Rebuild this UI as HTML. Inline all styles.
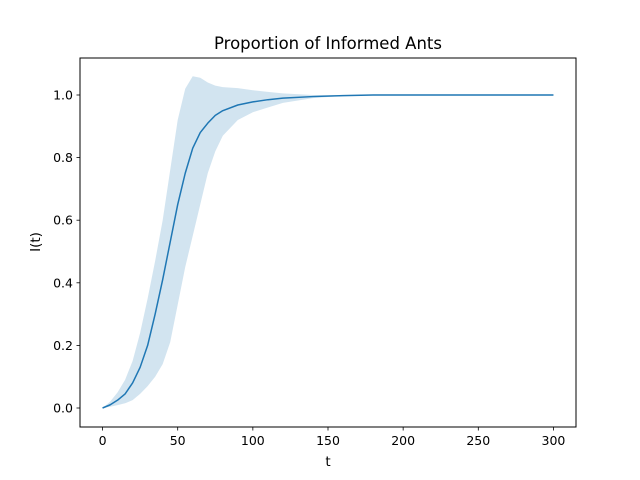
<!DOCTYPE html>
<html><head><meta charset="utf-8"><style>
body{margin:0;background:#fff;}
svg{display:block;font-family:"DejaVu Sans","Liberation Sans",sans-serif;}
</style></head><body>
<svg id="chart" width="640" height="480">
<rect width="640" height="480" fill="#fff"/>
<text x="328" y="49" text-anchor="middle" font-size="16.5">Proportion of Informed Ants</text>
<text x="328" y="466" text-anchor="middle" font-size="13.5">t</text>
<text transform="translate(40,242) rotate(-90)" text-anchor="middle" font-size="13.5">I(t)</text>
<g id="plot"></g>
<rect x="80" y="58" width="496" height="369" fill="none" stroke="#000" stroke-width="1"/>
</svg>
<script>
const tValues=[0,5,10,15,20,25,30,35,40,45,50,55,60,65,70,75,80,90,100,110,120,140,160,180,200,250,300];
const meanValues=[0,0.01,0.025,0.045,0.08,0.13,0.2,0.3,0.41,0.53,0.65,0.75,0.83,0.88,0.91,0.935,0.95,0.968,0.978,0.985,0.99,0.995,0.998,1,1,1,1];
const upperValues=[0,0.02,0.05,0.09,0.15,0.24,0.35,0.47,0.6,0.76,0.92,1.02,1.06,1.055,1.04,1.03,1.025,1.022,1.015,1.01,1.005,1.0,1.0,1,1,1,1];
const lowerValues=[0,0.004,0.009,0.015,0.025,0.045,0.07,0.1,0.14,0.21,0.33,0.45,0.55,0.65,0.75,0.82,0.87,0.92,0.945,0.96,0.975,0.99,0.997,1,1,1,1];
const xTicks=[0,50,100,150,200,250,300];
const yTicks=[0.0,0.2,0.4,0.6,0.8,1.0];

const NS="http://www.w3.org/2000/svg";
const X0=80,X1=576,Y0=427,Y1=58;
const xMin=-15,xMax=315,yMin=-0.0607,yMax=1.1182;
function xs(v){return X0+(v-xMin)/(xMax-xMin)*(X1-X0);}
function ys(v){return Y0-(v-yMin)/(yMax-yMin)*(Y0-Y1);}
const g=document.getElementById('plot');
function mk(tag,attrs){const e=document.createElementNS(NS,tag);for(const k in attrs)e.setAttribute(k,attrs[k]);g.appendChild(e);return e;}

let d='';
tValues.forEach((t,i)=>{d+=(i?'L':'M')+xs(t)+','+ys(upperValues[i]);});
for(let i=tValues.length-1;i>=0;i--)d+='L'+xs(tValues[i])+','+ys(lowerValues[i]);
const band=mk('path',{d:d+'Z',fill:'#1f77b4','fill-opacity':0.2,stroke:'none'});



let ld='';
tValues.forEach((t,i)=>{ld+=(i?'L':'M')+xs(t)+','+ys(meanValues[i]);});
const line=mk('path',{d:ld,fill:'none',stroke:'#1f77b4','stroke-width':1.5,'stroke-linejoin':'round'});



xTicks.forEach(v=>{
  const x=xs(v);
  const tk=mk('line',{x1:x,x2:x,y1:Y0,y2:Y0+3.5,stroke:'#000','stroke-width':0.8});
  
  
  const tx=mk('text',{x:x,y:Y0+18,'text-anchor':'middle','font-size':12.5});
  tx.textContent=v;
  
  
});
yTicks.forEach(v=>{
  const y=ys(v);
  const tk=mk('line',{x1:X0-3.5,x2:X0,y1:y,y2:y,stroke:'#000','stroke-width':0.8});
  
  
  const tx=mk('text',{x:X0-7,y:y+4.5,'text-anchor':'end','font-size':12.5});
  tx.textContent=v.toFixed(1);
  
  
});
</script>
</body></html>
